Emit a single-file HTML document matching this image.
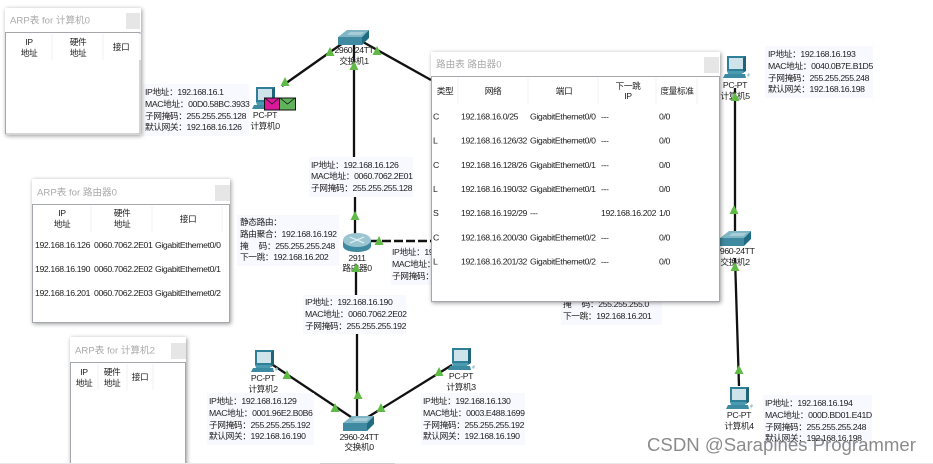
<!DOCTYPE html>
<html><head><meta charset="utf-8">
<style>
html,body{margin:0;padding:0;background:#fff;width:933px;height:464px;overflow:hidden}
svg{display:block;filter:blur(.3px)}
text{font-family:"Liberation Sans","Noto Sans CJK SC",sans-serif;font-size:8.7px;letter-spacing:-.38px;fill:#222}
.m{text-anchor:middle}
.t{font-size:9.6px;letter-spacing:0;fill:#aaa}
.lb{fill:#f8f8ff}
.ln{stroke:#111;stroke-width:2.3;fill:none}
.w{fill:#fff;filter:drop-shadow(1px 1px 2px rgba(0,0,0,.4))}
.b{fill:#fff;stroke:#a4a8ac;stroke-width:1}
.c{fill:#e6e6e6}
.d{stroke:#f0f0f0;stroke-width:1}
.tri{fill:#5fba46}
</style></head><body>
<svg width="933" height="464" viewBox="0 0 933 464" xmlns="http://www.w3.org/2000/svg">
<defs>
<g id="pc">
<path d="M3 0H22V15H3Z" fill="#2f7f96"/><path d="M5 2H19V13H5Z" fill="#cfe3ea"/>
<path d="M19 2L22 0V15L19 17Z" fill="#1f6478"/>
<path d="M3 15H20L18 18H4Z" fill="#4a9ab0"/><path d="M1 18H21L22 22H-1Z" fill="#3d8ba2"/>
<path d="M23 19l2-2 1 2-2 2z" fill="#9cc3d0"/>
</g>
<g id="sw">
<path d="M9 0H31L24 7H0Z" fill="#7fb5c4"/><path d="M12 2H27L23 5H9Z" fill="#a6cdd8"/>
<path d="M0 7H24V15H0Z" fill="#3f8aa1"/><path d="M24 7L31 0V8L24 15Z" fill="#1f6c83"/>
</g>
</defs>

<!-- links -->
<path class="ln" d="M282 86L343 43M363 42L431 80M354 44V158M355 196V238M356 264V296M357 334V420M273 365L351 417M368 417L452 365M735 88V232M735 258L739 386"/>
<path d="M370 241H431" stroke="#111" stroke-width="2.6" stroke-dasharray="9 3" fill="none"/>

<!-- label backgrounds -->
<rect class="lb" x="143" y="84" width="106" height="52"/>
<rect class="lb" x="309" y="157" width="104" height="40"/>
<rect class="lb" x="237" y="215" width="102" height="51"/>
<rect class="lb" x="391" y="246" width="45" height="39"/>
<rect class="lb" x="303" y="295" width="103" height="39"/>
<rect class="lb" x="207" y="393" width="107" height="52"/>
<rect class="lb" x="421" y="393" width="104" height="52"/>
<rect class="lb" x="765" y="46" width="108" height="52"/>
<rect class="lb" x="763" y="395" width="109" height="52"/>
<rect class="lb" x="561" y="295" width="101" height="30"/>

<!-- devices -->
<use href="#pc" x="253" y="87"/>
<use href="#pc" x="724" y="56"/>
<use href="#pc" x="252" y="350"/>
<use href="#pc" x="449" y="348"/>
<use href="#pc" x="727" y="387"/>
<use href="#sw" x="338" y="30"/>
<use href="#sw" x="343" y="416"/>
<use href="#sw" x="720" y="231"/>
<path d="M343 240V246C343 250 350 252 357 252S371 250 371 246V240Z" fill="#3f8aa1"/>
<ellipse cx="357" cy="240" rx="14" ry="7" fill="#9cc5d2"/>
<path d="M350 237l14 6M364 237l-14 6" stroke="#e8f4f8" stroke-width="1.2"/>

<!-- envelopes -->
<rect x="264.5" y="98" width="15" height="12" fill="#d9189a" stroke="#111"/>
<path d="M265 98l7 6 7-6" fill="none" stroke="#111" stroke-width=".8"/>
<rect x="279.5" y="98" width="16" height="12" fill="#5fb35a" stroke="#111"/>
<path d="M280 98l7.5 6 7.5-6" fill="none" stroke="#111" stroke-width=".8"/>

<!-- device labels -->
<text class="m" x="265" y="118">PC-PT</text><text class="m" x="265" y="129">计算机0</text>
<text class="m" x="354" y="53">2960-24TT</text><text class="m" x="354" y="64">交换机1</text>
<text class="m" x="735" y="88">PC-PT</text><text class="m" x="735" y="99">计算机5</text>
<text class="m" x="735" y="254">2960-24TT</text><text class="m" x="735" y="265">交换机2</text>
<text class="m" x="357" y="261">2911</text><text class="m" x="357" y="271">路由器0</text>
<text class="m" x="263" y="381">PC-PT</text><text class="m" x="263" y="392">计算机2</text>
<text class="m" x="461" y="379">PC-PT</text><text class="m" x="461" y="390">计算机3</text>
<text class="m" x="359" y="440">2960-24TT</text><text class="m" x="359" y="450">交换机0</text>
<text class="m" x="739" y="418">PC-PT</text><text class="m" x="739" y="429">计算机4</text>

<!-- triangles -->
<path class="tri" d="M285 77l4.5 9h-9zM330 47l4.5 9h-9zM354 61l4.5 9h-9zM377 46l4.5 9h-9zM355 211l4.5 9h-9zM379 236l4.5 9h-9zM356 263l4.5 9h-9zM287 370l4.5 9h-9zM335 403l4.5 9h-9zM358 390l4.5 9h-9zM381 403l4.5 9h-9zM439 367l4.5 9h-9zM735 92l4.5 9h-9zM734 205l4.5 9h-9zM735 262l4.5 9h-9zM739 365l4.5 9h-9z"/>

<!-- labels text -->
<text x="145" y="95">IP地址：192.168.16.1</text>
<text x="145" y="107">MAC地址：00D0.58BC.3933</text>
<text x="145" y="119">子网掩码：255.255.255.128</text>
<text x="145" y="130">默认网关：192.168.16.126</text>

<text x="311" y="168">IP地址：192.168.16.126</text>
<text x="311" y="179">MAC地址：0060.7062.2E01</text>
<text x="311" y="191">子网掩码：255.255.255.128</text>

<text x="240" y="225">静态路由：</text>
<text x="240" y="237">路由聚合：192.168.16.192</text>
<text x="240" y="249">掩　 码：255.255.255.248</text>
<text x="240" y="260">下一跳：192.168.16.202</text>

<text x="392" y="255">IP地址：192.168.16.201</text>
<text x="392" y="267">MAC地址：0060.7062.2E03</text>
<text x="392" y="279">子网掩码：255.255.255.252</text>

<text x="305" y="305">IP地址：192.168.16.190</text>
<text x="305" y="317">MAC地址：0060.7062.2E02</text>
<text x="305" y="329">子网掩码：255.255.255.192</text>

<text x="209" y="404">IP地址：192.168.16.129</text>
<text x="209" y="416">MAC地址：0001.96E2.B0B6</text>
<text x="209" y="428">子网掩码：255.255.255.192</text>
<text x="209" y="439">默认网关：192.168.16.190</text>

<text x="423" y="404">IP地址：192.168.16.130</text>
<text x="423" y="416">MAC地址：0003.E488.1699</text>
<text x="423" y="428">子网掩码：255.255.255.192</text>
<text x="423" y="439">默认网关：192.168.16.190</text>

<text x="768" y="57">IP地址：192.168.16.193</text>
<text x="768" y="69">MAC地址：0040.0B7E.B1D5</text>
<text x="768" y="81">子网掩码：255.255.255.248</text>
<text x="768" y="92">默认网关：192.168.16.198</text>

<text x="765" y="406">IP地址：192.168.16.194</text>
<text x="765" y="418">MAC地址：000D.BD01.E41D</text>
<text x="765" y="430">子网掩码：255.255.255.248</text>
<text x="765" y="441">默认网关：192.168.16.198</text>

<text x="563" y="307">掩　 码：255.255.255.0</text>
<text x="563" y="319">下一跳：192.168.16.201</text>

<!-- ARP PC0 -->
<rect class="w" x="5" y="8" width="136" height="127"/>
<rect class="b" x="5.5" y="32.5" width="134.5" height="101.5"/>
<text class="t" x="10" y="23.5">ARP表 for 计算机0</text>
<rect class="c" x="126" y="13" width="14" height="16"/>
<path class="d" d="M52 34V60M103 34V60M140 34V60"/>
<text class="m" x="29" y="45">IP</text><text class="m" x="29" y="56">地址</text>
<text class="m" x="78" y="45">硬件</text><text class="m" x="78" y="56">地址</text>
<text class="m" x="121" y="50">接口</text>

<!-- ARP Router -->
<rect class="w" x="32" y="179" width="198" height="144"/>
<rect class="b" x="32.5" y="204.5" width="197" height="118"/>
<text class="t" x="37" y="195.5">ARP表 for 路由器0</text>
<rect class="c" x="215" y="185" width="15" height="16"/>
<path class="d" d="M91 206V232M152 206V232M222 206V232"/>
<text class="m" x="62" y="216">IP</text><text class="m" x="62" y="227">地址</text>
<text class="m" x="122" y="216">硬件</text><text class="m" x="122" y="227">地址</text>
<text class="m" x="188" y="222">接口</text>
<text x="35" y="248">192.168.16.126</text><text x="94" y="248">0060.7062.2E01</text><text x="155" y="248">GigabitEthernet0/0</text>
<text x="35" y="272">192.168.16.190</text><text x="94" y="272">0060.7062.2E02</text><text x="155" y="272">GigabitEthernet0/1</text>
<text x="35" y="296">192.168.16.201</text><text x="94" y="296">0060.7062.2E03</text><text x="155" y="296">GigabitEthernet0/2</text>

<!-- ARP PC2 -->
<rect class="w" x="70" y="337" width="116" height="130"/>
<rect class="b" x="70.5" y="362.5" width="115" height="104"/>
<text class="t" x="75" y="353.5">ARP表 for 计算机2</text>
<rect class="c" x="171" y="343" width="15" height="16"/>
<path class="d" d="M98 364V390M127 364V390M153 364V390"/>
<text class="m" x="84" y="375">IP</text><text class="m" x="84" y="386">地址</text>
<text class="m" x="112" y="375">硬件</text><text class="m" x="112" y="386">地址</text>
<text class="m" x="140" y="380">接口</text>

<!-- Routing table -->
<rect class="w" x="431" y="52" width="289" height="250"/>
<rect class="b" x="431.5" y="76.5" width="288" height="225"/>
<text class="t" x="436" y="67.5">路由表 路由器0</text>
<rect class="c" x="704" y="57" width="15" height="16"/>
<path class="d" d="M458 78V104M528 78V104M598 78V104M656 78V104M697 78V104"/>
<text class="m" x="445" y="94">类型</text>
<text class="m" x="493" y="94">网络</text>
<text class="m" x="564" y="94">端口</text>
<text class="m" x="628" y="89">下一跳</text><text class="m" x="628" y="99">IP</text>
<text class="m" x="677" y="94">度量标准</text>

<text x="433" y="119.5">C</text><text x="461" y="119.5">192.168.16.0/25</text><text x="530" y="119.5">GigabitEthernet0/0</text><text x="601" y="119.5">---</text><text x="659" y="119.5">0/0</text>
<text x="433" y="143.5">L</text><text x="461" y="143.5">192.168.16.126/32</text><text x="530" y="143.5">GigabitEthernet0/0</text><text x="601" y="143.5">---</text><text x="659" y="143.5">0/0</text>
<text x="433" y="168">C</text><text x="461" y="168">192.168.16.128/26</text><text x="530" y="168">GigabitEthernet0/1</text><text x="601" y="168">---</text><text x="659" y="168">0/0</text>
<text x="433" y="192">L</text><text x="461" y="192">192.168.16.190/32</text><text x="530" y="192">GigabitEthernet0/1</text><text x="601" y="192">---</text><text x="659" y="192">0/0</text>
<text x="433" y="216">S</text><text x="461" y="216">192.168.16.192/29</text><text x="530" y="216">---</text><text x="601" y="216">192.168.16.202</text><text x="659" y="216">1/0</text>
<text x="433" y="240.5">C</text><text x="461" y="240.5">192.168.16.200/30</text><text x="530" y="240.5">GigabitEthernet0/2</text><text x="601" y="240.5">---</text><text x="659" y="240.5">0/0</text>
<text x="433" y="264.5">L</text><text x="461" y="264.5">192.168.16.201/32</text><text x="530" y="264.5">GigabitEthernet0/2</text><text x="601" y="264.5">---</text><text x="659" y="264.5">0/0</text>

<!-- bottom strip & watermark -->
<rect x="0" y="463" width="933" height="1" fill="#e8e8e8"/>
<rect x="320" y="463" width="75" height="1" fill="#cfcfcf"/>
<text x="647" y="451" style="font-size:18.6px;letter-spacing:0;fill:rgba(90,90,90,.7)">CSDN @Sarapines Programmer</text>
</svg>
</body></html>
